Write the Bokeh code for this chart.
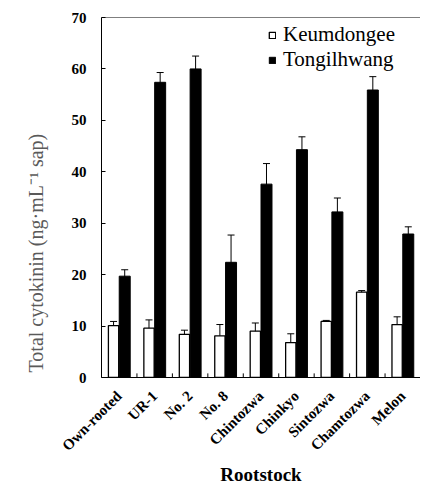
import math
from bokeh.plotting import figure
from bokeh.models import ColumnDataSource, Whisker, Span, Legend, LegendItem, Title
from bokeh.transform import dodge
from bokeh.embed import file_html
from bokeh.resources import INLINE

categories = ["Own-rooted", "UR-1", "No. 2", "No. 8", "Chintozwa",
              "Chinkyo", "Sintozwa", "Chamtozwa", "Melon"]
keumdongee = [10.1, 9.6, 8.4, 8.1, 9.0, 6.8, 10.9, 16.6, 10.3]
keumdongee_err = [0.8, 1.6, 0.8, 2.2, 1.6, 1.7, 0.2, 0.3, 1.5]
tongilhwang = [19.7, 57.4, 60.0, 22.4, 37.6, 44.3, 32.2, 55.9, 27.9]
tongilhwang_err = [1.25, 1.9, 2.5, 5.3, 4.0, 2.5, 2.7, 2.6, 1.4]
y_ticks = [0, 10, 20, 30, 40, 50, 60, 70]
y_title = "Total cytokinin (ng\u00b7mL\u207b\u00b9  sap)"

src = ColumnDataSource(dict(
    cat=categories,
    k=keumdongee,
    k_up=[v + e for v, e in zip(keumdongee, keumdongee_err)],
    k_lo=[v - e for v, e in zip(keumdongee, keumdongee_err)],
    t=tongilhwang,
    t_up=[v + e for v, e in zip(tongilhwang, tongilhwang_err)],
    t_lo=[v - e for v, e in zip(tongilhwang, tongilhwang_err)],
))
bnd = ColumnDataSource(dict(cat=categories[:-1],
                            y0=[0] * (len(categories) - 1),
                            y1=[0.8] * (len(categories) - 1)))

SERIF = "Liberation Serif"

p = figure(x_range=categories, y_range=(0, 70), width=420, height=488,
           output_backend="svg", toolbar_location=None,
           min_border_left=100, min_border_top=17, min_border_right=0,
           min_border_bottom=0)
p.x_range.range_padding = 0
p.grid.grid_line_color = None
p.outline_line_color = None
p.background_fill_color = "white"

wk = p.vbar(x=dodge("cat", -0.16, range=p.x_range), top="k", width=0.29,
            source=src, fill_color="white", line_color="black", line_width=1.3)
wt = p.vbar(x=dodge("cat", 0.155, range=p.x_range), top="t", width=0.31,
            source=src, fill_color="black", line_color="black", line_width=1)

wh1 = Whisker(source=src, base=dodge("cat", -0.16, range=p.x_range),
              upper="k_up", lower="k_lo", line_color="black", line_width=1)
wh2 = Whisker(source=src, base=dodge("cat", 0.155, range=p.x_range),
              upper="t_up", lower="t_lo", line_color="black", line_width=1)
for w in (wh1, wh2):
    w.upper_head.size = 7
    w.lower_head.size = 7
    w.upper_head.line_color = "black"
    w.lower_head.line_color = "black"
    p.add_layout(w)

# small inner ticks at category boundaries
p.segment(x0=dodge("cat", 0.5, range=p.x_range), y0="y0",
          x1=dodge("cat", 0.5, range=p.x_range), y1="y1",
          source=bnd, line_color="black", line_width=1)

p.add_layout(Span(location=70, dimension="width", line_color="black", line_width=1))

# y axis
ya = p.yaxis[0]
ya.ticker = y_ticks
ya.major_tick_in = 4
ya.major_tick_out = 0
ya.minor_tick_line_color = None
ya.axis_line_color = "black"
ya.major_label_text_font = SERIF
ya.major_label_text_font_style = "bold"
ya.major_label_text_font_size = "15px"
ya.major_label_text_color = "black"
ya.major_label_standoff = 15

# y axis title, starting near the bottom of the frame as in the original
p.add_layout(Title(text=y_title, align="left", offset=5, standoff=44,
                   text_font=SERIF, text_font_size="20px",
                   text_font_style="normal", text_color="#5a5a5a"), "left")

# x axis
xa = p.xaxis[0]
xa.axis_line_color = "black"
xa.major_tick_line_color = None
xa.minor_tick_line_color = None
xa.major_label_orientation = math.pi / 4
xa.major_label_text_font = SERIF
xa.major_label_text_font_style = "bold"
xa.major_label_text_font_size = "15px"
xa.major_label_text_color = "black"
xa.major_label_standoff = 10
xa.axis_label = "Rootstock"
xa.axis_label_text_font = SERIF
xa.axis_label_text_font_style = "bold"
xa.axis_label_text_font_size = "19px"
xa.axis_label_text_color = "black"
xa.axis_label_standoff = 2

legend = Legend(items=[LegendItem(label="Keumdongee", renderers=[wk]),
                       LegendItem(label="Tongilhwang", renderers=[wt])],
                location="top_right", border_line_color=None,
                background_fill_alpha=0, glyph_width=8, glyph_height=8,
                label_standoff=7, spacing=0, padding=0, margin=5,
                label_width=132)
legend.label_text_font = SERIF
legend.label_text_font_size = "21px"
legend.label_text_color = "black"
p.add_layout(legend)

open("out.html", "w").write(file_html(p, INLINE))
